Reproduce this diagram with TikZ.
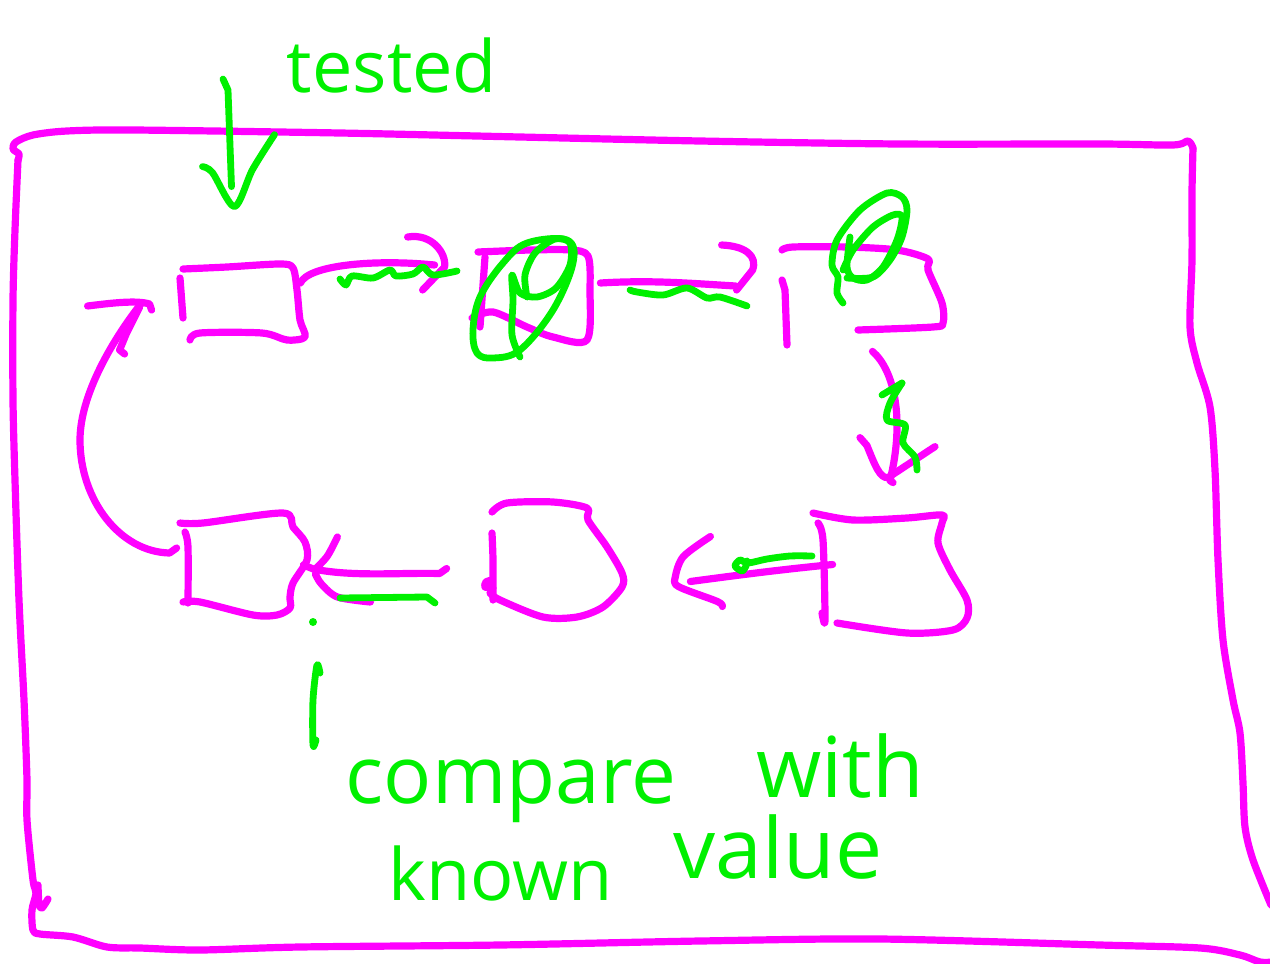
\documentclass[tikz,border=0pt]{standalone}
\usepackage{fontspec}
\setmainfont{Open Sans}
\usetikzlibrary{calc,fit}
\definecolor{pen}{RGB}{255,0,255}
\definecolor{hilite}{RGB}{0,240,0}
\tikzset{
  ink/.style={draw=pen, line width=3.6pt, line cap=round, line join=round},
  greenpen/.style={draw=hilite, line width=3.4pt, line cap=round, line join=round},
  box/.style={inner sep=0pt, draw=none},
  note/.style={text=hilite, inner sep=0pt, anchor=base},
  hand/.style={smooth, tension=0.5},
}
\begin{document}
\begin{tikzpicture}[x=0.5pt,y=-0.5pt]
\fill[white] (0,0) rectangle (1270,964);
\useasboundingbox (0,0) rectangle (1270,964);

% ---- outer frame ----
\draw[ink] plot[hand] coordinates {(18,160) (19,154) (13,149) (16,142) (33,135) (67,131) (133,130) (340,133) (520,137) (700,141) (900,144) (1100,144) (1173,145) (1188,141) (1193,148)};
\draw[ink] plot[hand] coordinates {(1193,148) (1192,193) (1192,260) (1190,327) (1197,363) (1210,407) (1215,470) (1218,560) (1223,640) (1233,700) (1240,733) (1243,783) (1245,827) (1253,860) (1271,905)};
\draw[ink] plot[hand] coordinates {(18,160) (15,230) (13,300) (13,400) (15,480) (19,600) (24,700) (27,780) (27,820) (33,880) (36,893) (32,910) (33,930) (40,934) (73,937) (107,947) (140,948) (200,950) (300,947) (500,945) (700,941) (880,939) (1100,945) (1200,948) (1240,955) (1260,962) (1272,962)};
\draw[ink] plot[hand] coordinates {(38,885) (39,904) (42,908) (48,899)};

% ---- the six steps (named regions) ----
\node[box, fit={(180,263) (305,341)}] (b1) {};
\node[box, fit={(470,248) (591,342)}] (b2) {};
\node[box, fit={(780,245) (945,347)}] (b3) {};
\node[box, fit={(813,512) (969,635)}] (b4) {};
\node[box, fit={(484,500) (624,619)}] (b5) {};
\node[box, fit={(180,512) (308,616)}] (b6) {};

% step outlines, sketched by hand
\draw[ink] plot[hand] coordinates {(183,269) (227,267) (280,264) (293,268) (297,290) (300,320) (305,337) (287,340) (262,333) (200,333) (190,340)};
\draw[ink] (180,278) -- (183,318);

\draw[ink] plot[hand] coordinates {(478,252) (530,250) (570,250) (588,256) (590,290) (587,340) (553,337) (527,327) (493,312) (472,318)};
\draw[ink] (485,257) -- (480,327);

\draw[ink] plot[hand] coordinates {(782,250) (793,247) (847,247) (897,250) (928,259) (928,270) (942,303) (943,323) (933,327) (858,330)};
\draw[ink] (782,280) -- (785,290) -- (787,345);

\draw[ink] plot[hand] coordinates {(813,513) (853,520) (907,518) (942,515) (942,523) (938,543) (950,570) (967,600) (967,618) (953,630) (907,633) (837,623)};
\draw[ink] plot[hand] coordinates {(818,523) (823,540) (825,620) (822,613)};

\draw[ink] plot[hand] coordinates {(492,512) (507,503) (553,502) (587,508) (588,520) (607,547) (622,573) (622,587) (603,607) (577,617) (543,617) (500,600) (490,593)};
\draw[ink] plot[hand] coordinates {(492,533) (493,560) (493,600)};
\draw[ink] plot[hand] coordinates {(493,588) (485,587) (486,582) (492,580)};

\draw[ink] plot[hand] coordinates {(180,523) (203,523) (283,513) (293,527) (305,542) (307,560) (293,583) (290,597) (290,608) (277,615) (253,615) (200,602) (183,602)};
\draw[ink] plot[hand] coordinates {(185,532) (188,547) (188,603)};

% ---- connectors ----
\coordinate (t12) at ($(b2.west)+(-35,-30)$);
\coordinate (t23) at ($(b3.west)+(-44,-10)$);
\coordinate (t34) at ($(b4.north)+(-1,-31)$);
\coordinate (t45) at ($(b5.east)+(66,22)$);
\coordinate (t56) at ($(b6.east)+(5,5)$);
\coordinate (t61) at ($(b1.west)+(-38,1)$);

\draw[ink] ($(b1.east)+(-5,-19)$) .. controls +(8,-18) and +(-60,-6) .. (t12);
\draw[ink, shift={(t12)}] (-27,-28) .. controls (-3,-32) and (12,-12) .. (10,2) -- (-12,25);

\draw[ink] ($(b2.east)+(9,-12)$) .. controls +(50,-3) and +(-50,-3) .. (t23);
\draw[ink, shift={(t23)}] (-14,-41) .. controls (10,-40) and (22,-30) .. (17,-16) -- (1,4);

\draw[ink] ($(b3.south)+(10,4)$) .. controls +(22,19) and +(15,-61) .. (t34) -- ++(3,2);
\draw[ink, shift={(t34)}] (-30,-43) -- (-23,-35) .. controls (-15,-15) and (-10,-2) .. (-2,-3) -- (45,-34);

\draw[ink] ($(b4.west)+(20,-9)$) .. controls +(-50,5) and +(60,-8) .. (t45);
\draw[ink, shift={(t45)}] plot[hand] coordinates {(20,-45) (-7,-25) (-15,-5) (-12,5) (27,20) (32,25)};

\draw[ink] ($(b5.west)+(-37,9)$) -- ++(-7,5) .. controls +(-40,-1) and +(40,8) .. (t56) -- ++(-10,-4);
\draw[ink, shift={(t56)}] plot[hand] coordinates {(24,-32) (14,-13) (2,0)};
\draw[ink, shift={(t56)}] plot[hand] coordinates {(2,5) (8,15) (24,28) (57,33)};

\draw[ink] ($(b6.west)+(-3,-16)$) -- ++(-7,5) .. controls (120,552) and (80,500) .. (80,440) .. controls (80,390) and (120,330) .. (t61);
\draw[ink, shift={(t61)}] (-54,3) .. controls (-30,0) and (-5,-3) .. (8,1) -- (10,7);
\draw[ink, shift={(t61)}] (-2,4) -- (-15,30) -- (-22,47) -- (-17,51);

% ---- green annotations ----
\draw[greenpen] plot[hand] coordinates {(340,279) (346,285) (352,276) (373,278) (390,270) (396,276) (413,274) (423,267) (433,275) (457,271)};
\draw[greenpen] plot[hand] coordinates {(630,290) (637,292) (663,295) (687,288) (707,298) (720,297) (747,306)};
\draw[greenpen] (882,395) -- (902,383);
\draw[greenpen] plot[hand] coordinates {(902,383) (890,403) (887,420) (905,425) (903,443) (915,457) (917,470)};
\draw[greenpen] plot[hand] coordinates {(812,556) (790,556) (767,559) (748,563) (740,560) (735,566) (742,571) (746,566) (747,561)};
\draw[greenpen] (340,598) -- (427,597) -- (435,603);
\fill[hilite] (313,622) circle[radius=2pt];

% marks over the second and third steps
\draw[greenpen] plot[smooth cycle, tension=0.6] coordinates {(567,240) (573,263) (553,310) (520,350) (493,358) (477,353) (473,330) (480,297) (503,263) (527,243)};
\draw[greenpen] plot[hand] coordinates {(527,297) (525,275) (535,253) (555,239) (570,243) (570,265) (556,288) (537,297) (520,293) (512,275) (513,300) (512,335) (520,357)};

\draw[greenpen] plot[hand] coordinates {(843,303) (837,293) (838,277) (832,265) (837,240) (860,210) (887,193) (902,197) (907,210) (902,237) (890,260) (873,277) (847,278)};
\draw[greenpen] plot[hand] coordinates {(850,237) (847,267) (853,278) (867,280) (883,267) (897,240) (902,217) (893,215) (873,227) (853,250) (843,270)};

% "tested" arrow pointing at the first step
\coordinate (ts) at (223,79);
\coordinate (tt) at ($(b1.north)+(-8,-56)$);
\draw[greenpen] (ts) -- ++(5,11) -- ($(tt)+(-3,-20)$);
\draw[greenpen, shift={(tt)}] plot[hand] coordinates {(-32,-40) (-22,-34) (0,0) (18,-37) (40,-72)};

% pointer from the note to the last step
\draw[greenpen] plot[hand] coordinates {(320,673) (317,665) (313,700) (313,745) (316,740)};

% ---- labels ----
\node[note, font=\fontsize{36}{40}\selectfont] (tested) at (392,92) {tested};
\node[note, font=\fontsize{40}{44}\selectfont] (cmp) at (511,803) {compare};
\node[note, font=\fontsize{42}{46}\selectfont] (with) at (840,797) {with};
\node[note, font=\fontsize{36}{40}\selectfont] (known) at (501,900) {known};
\node[note, font=\fontsize{42}{46}\selectfont] (value) at (778,878) {value};
\end{tikzpicture}
\end{document}
